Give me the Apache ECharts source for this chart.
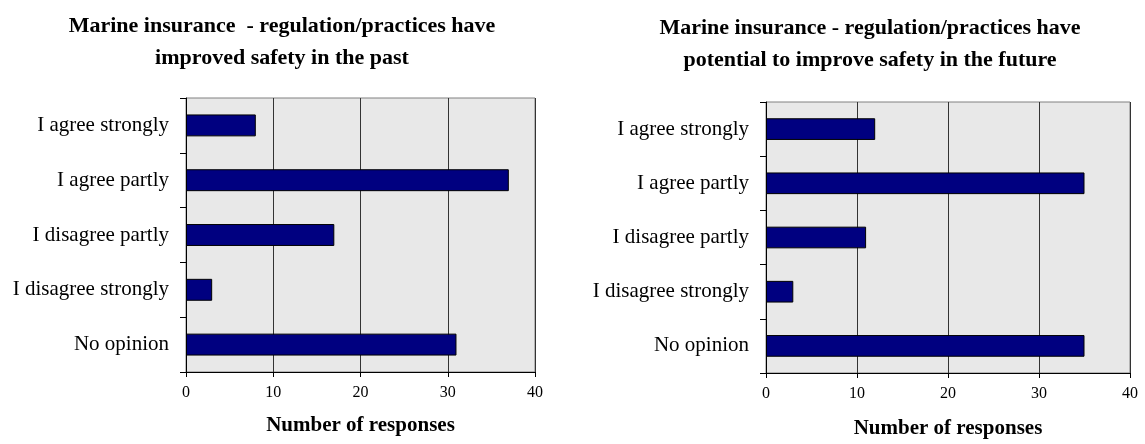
<!DOCTYPE html>
<html>
<head>
<meta charset="utf-8">
<script src="https://cdn.jsdelivr.net/npm/echarts@6/dist/echarts.min.js"></script>
<style>
  html, body { margin: 0; padding: 0; background: #fff; }
  #chart { width: 1145px; height: 444px; }
</style>
</head>
<body>
<div id="chart"></div>
<script>
const categories = ['I agree strongly', 'I agree partly', 'I disagree partly', 'I disagree strongly', 'No opinion']
const pastValues = [8, 37, 17, 3, 31]
const futureValues = [12, 35, 11, 3, 35]
const xTicks = [0, 10, 20, 30, 40]

const font = "'Liberation Serif', 'Times New Roman', serif"

function xAxisFor(gridIndex, nameGap) {
  return {
    gridIndex: gridIndex,
    type: 'value',
    min: xTicks[0],
    max: xTicks[xTicks.length - 1],
    interval: xTicks[1] - xTicks[0],
    name: 'Number of responses',
    nameLocation: 'middle',
    nameGap: nameGap,
    nameTextStyle: { fontFamily: font, fontWeight: 'bold', fontSize: 21, color: '#000' },
    axisLine: { show: true, lineStyle: { color: '#000', width: 1 } },
    axisTick: { show: true, length: 5, lineStyle: { color: '#000' } },
    axisLabel: { fontFamily: font, fontSize: 16, color: '#000', margin: 13 },
    splitLine: { show: true, lineStyle: { color: '#333', width: 1 } }
  }
}

function yAxisFor(gridIndex) {
  return {
    gridIndex: gridIndex,
    type: 'category',
    data: categories,
    inverse: true,
    axisLine: { show: true, lineStyle: { color: '#000', width: 1 } },
    axisTick: { show: true, length: 6, lineStyle: { color: '#000' } },
    axisLabel: { fontFamily: font, fontSize: 21, color: '#000', margin: 17 },
    splitLine: { show: false }
  }
}

function barSeries(idx, values) {
  return {
    type: 'bar',
    xAxisIndex: idx,
    yAxisIndex: idx,
    data: values,
    barWidth: '40%',
    itemStyle: { color: '#000080', borderColor: '#000', borderWidth: 1 },
    silent: true
  }
}

const chart = echarts.init(document.getElementById('chart'), null, { renderer: 'canvas' })
chart.setOption({
  animation: false,
  backgroundColor: '#fff',
  title: [
    {
      text: 'Marine insurance  - regulation/practices have\nimproved safety in the past',
      left: 277,
      top: 5,
      textAlign: 'center',
      textStyle: { fontFamily: font, fontWeight: 'bold', fontSize: 22, lineHeight: 32, color: '#000' }
    },
    {
      text: 'Marine insurance - regulation/practices have\npotential to improve safety in the future',
      left: 865,
      top: 7,
      textAlign: 'center',
      textStyle: { fontFamily: font, fontWeight: 'bold', fontSize: 22, lineHeight: 32, color: '#000' }
    }
  ],
  grid: [
    {
      left: 186, top: 98, width: 349, height: 274,
      show: true, backgroundColor: '#e8e8e8', borderColor: '#808080', borderWidth: 1
    },
    {
      left: 766, top: 102, width: 364, height: 272,
      show: true, backgroundColor: '#e8e8e8', borderColor: '#808080', borderWidth: 1
    }
  ],
  xAxis: [xAxisFor(0, 43), xAxisFor(1, 45)],
  yAxis: [yAxisFor(0), yAxisFor(1)],
  series: [barSeries(0, pastValues), barSeries(1, futureValues)]
})
</script>
</body>
</html>
